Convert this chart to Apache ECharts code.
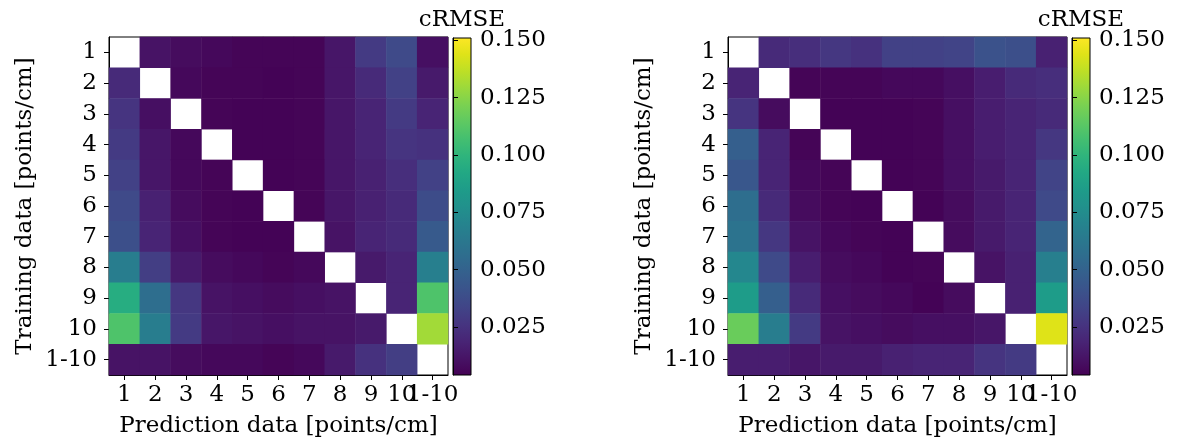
<!DOCTYPE html>
<html>
<head>
<meta charset="utf-8">
<script src="https://cdn.jsdelivr.net/npm/echarts@6/dist/echarts.min.js"></script>
<style>
  html, body { margin: 0; padding: 0; background: #fff; }
  #chart { width: 1183px; height: 443px; }
</style>
</head>
<body>
<div id="chart"></div>
<script>
// tick labels for both axes
const categories = ["1", "2", "3", "4", "5", "6", "7", "8", "9", "10", "1-10"];
const colorbarTicks = [0.025, 0.05, 0.075, 0.1, 0.125, 0.15];
const colorMin = 0.004;
const colorMax = 0.151;

// rows = training data, columns = prediction data, null = diagonal (blank)
const leftValues = [
  [null, 0.0114, 0.0084, 0.0069, 0.0055, 0.0055, 0.0055, 0.0128, 0.0290, 0.0363, 0.0099],
  [0.0216, null, 0.0069, 0.0055, 0.0055, 0.0047, 0.0055, 0.0128, 0.0216, 0.0319, 0.0143],
  [0.0261, 0.0099, null, 0.0055, 0.0047, 0.0047, 0.0055, 0.0128, 0.0187, 0.0290, 0.0187],
  [0.0290, 0.0128, 0.0069, null, 0.0047, 0.0047, 0.0055, 0.0128, 0.0187, 0.0261, 0.0246],
  [0.0319, 0.0128, 0.0069, 0.0055, null, 0.0047, 0.0055, 0.0128, 0.0172, 0.0231, 0.0319],
  [0.0363, 0.0172, 0.0084, 0.0055, 0.0047, null, 0.0055, 0.0128, 0.0172, 0.0216, 0.0378],
  [0.0393, 0.0187, 0.0099, 0.0055, 0.0047, 0.0047, null, 0.0114, 0.0187, 0.0216, 0.0452],
  [0.0657, 0.0305, 0.0143, 0.0084, 0.0069, 0.0055, 0.0069, null, 0.0143, 0.0187, 0.0672],
  [0.0951, 0.0569, 0.0275, 0.0114, 0.0099, 0.0084, 0.0099, 0.0114, null, 0.0187, 0.1098],
  [0.1098, 0.0657, 0.0290, 0.0128, 0.0114, 0.0099, 0.0114, 0.0114, 0.0143, null, 0.1304],
  [0.0114, 0.0114, 0.0084, 0.0069, 0.0069, 0.0055, 0.0069, 0.0143, 0.0246, 0.0305, null]
];

const rightValues = [
  [null, 0.0216, 0.0231, 0.0275, 0.0246, 0.0319, 0.0319, 0.0334, 0.0408, 0.0393, 0.0172],
  [0.0187, null, 0.0055, 0.0055, 0.0055, 0.0069, 0.0069, 0.0099, 0.0158, 0.0216, 0.0231],
  [0.0261, 0.0084, null, 0.0047, 0.0047, 0.0047, 0.0055, 0.0099, 0.0158, 0.0187, 0.0216],
  [0.0481, 0.0187, 0.0055, null, 0.0047, 0.0047, 0.0055, 0.0099, 0.0158, 0.0187, 0.0275],
  [0.0437, 0.0187, 0.0069, 0.0055, null, 0.0047, 0.0055, 0.0099, 0.0143, 0.0187, 0.0334],
  [0.0569, 0.0216, 0.0084, 0.0055, 0.0047, null, 0.0047, 0.0084, 0.0143, 0.0187, 0.0363],
  [0.0599, 0.0275, 0.0114, 0.0069, 0.0055, 0.0047, null, 0.0084, 0.0143, 0.0187, 0.0510],
  [0.0716, 0.0363, 0.0158, 0.0084, 0.0069, 0.0047, 0.0055, null, 0.0114, 0.0172, 0.0672],
  [0.0849, 0.0481, 0.0216, 0.0099, 0.0084, 0.0069, 0.0047, 0.0084, null, 0.0172, 0.0849],
  [0.1172, 0.0657, 0.0290, 0.0114, 0.0099, 0.0084, 0.0099, 0.0099, 0.0128, null, 0.1437],
  [0.0158, 0.0158, 0.0128, 0.0143, 0.0143, 0.0172, 0.0187, 0.0187, 0.0261, 0.0290, null]
];

const viridis = [
  "#440154", "#471365", "#482475", "#463480", "#414487", "#3b528b", "#355f8d",
  "#2f6c8e", "#2a788e", "#25848e", "#21918c", "#1e9c89", "#22a884", "#2fb47c",
  "#44bf70", "#5ec962", "#7ad151", "#9bd93c", "#bddf26", "#dfe318", "#fde725"
];

const FONT = "DejaVu Serif";
const FS = 23;

function toCells(matrix) {
  const out = [];
  matrix.forEach((row, r) => {
    row.forEach((v, c) => {
      out.push([c, r, v === null ? "-" : v]);
    });
  });
  return out;
}

const chart = echarts.init(document.getElementById("chart"), null, { renderer: "canvas" });

const heatGrids = [
  { left: 109, top: 37, width: 339, height: 338 },
  { left: 728, top: 37, width: 339, height: 338 }
];
const barGrids = [
  { left: 453, top: 38, width: 18, height: 337 },
  { left: 1072, top: 38, width: 18, height: 337 }
];

const gradient = {
  type: "linear", x: 0, y: 1, x2: 0, y2: 0,
  colorStops: viridis.map((c, i) => ({ offset: i / (viridis.length - 1), color: c }))
};

const catAxisCommon = {
  type: "category",
  data: categories,
  axisLine: { show: true, lineStyle: { color: "#000", width: 1 } },
  axisTick: { show: true, alignWithLabel: true, length: 5, lineStyle: { color: "#000" } },
  axisLabel: { color: "#000", fontFamily: FONT, fontSize: FS, interval: 0, hideOverlap: false },
  splitLine: { show: false },
  nameTextStyle: { color: "#000", fontFamily: FONT, fontSize: FS },
  nameLocation: "middle"
};

const grid = [];
const xAxis = [];
const yAxis = [];
const series = [];

[leftValues, rightValues].forEach((matrix, i) => {
  grid.push(Object.assign({ show: true, borderColor: "#000", borderWidth: 1, backgroundColor: "#fff" }, heatGrids[i]));
  xAxis.push(Object.assign({}, catAxisCommon, {
    gridIndex: i,
    position: "bottom",
    name: "Prediction data [points/cm]",
    nameGap: 40,
    axisLabel: Object.assign({}, catAxisCommon.axisLabel, { margin: 9 })
  }));
  yAxis.push(Object.assign({}, catAxisCommon, {
    gridIndex: i,
    inverse: true,
    name: "Training data [points/cm]",
    nameGap: 72,
    axisLabel: Object.assign({}, catAxisCommon.axisLabel, { margin: 12 })
  }));
  series.push({
    type: "heatmap",
    xAxisIndex: i,
    yAxisIndex: i,
    data: toCells(matrix),
    itemStyle: { borderWidth: 0 },
    emphasis: { disabled: true },
    progressive: 0
  });
});

// colorbars
barGrids.forEach((g, k) => {
  const gi = 2 + k;
  grid.push(Object.assign({ show: true, borderColor: "#000", borderWidth: 1, backgroundColor: gradient }, g));
  xAxis.push({ type: "value", gridIndex: gi, show: false, min: 0, max: 1 });
  yAxis.push({
    type: "value",
    gridIndex: gi,
    position: "right",
    min: colorMin,
    max: colorMax,
    axisLine: { show: true, lineStyle: { color: "#000" } },
    axisTick: { show: true, length: 5, inside: false, customValues: colorbarTicks, lineStyle: { color: "#000" } },
    axisLabel: {
      show: true,
      color: "#000",
      fontFamily: FONT,
      fontSize: FS,
      margin: 9,
      customValues: colorbarTicks,
      formatter: (v) => v.toFixed(3)
    },
    splitLine: { show: false }
  });
});

const titleStyle = (cx) => ({
  type: "text",
  x: cx,
  y: 20,
  style: {
    text: "cRMSE",
    fill: "#000",
    font: FS + "px '" + FONT + "'",
    textAlign: "center",
    textVerticalAlign: "middle"
  }
});

const option = {
  backgroundColor: "#fff",
  animation: false,
  graphic: [titleStyle(462), titleStyle(1081)],
  visualMap: {
    type: "continuous",
    show: false,
    seriesIndex: [0, 1],
    min: colorMin,
    max: colorMax,
    inRange: { color: viridis }
  },
  grid: grid,
  xAxis: xAxis,
  yAxis: yAxis,
  series: series
};

chart.setOption(option);
</script>
</body>
</html>
